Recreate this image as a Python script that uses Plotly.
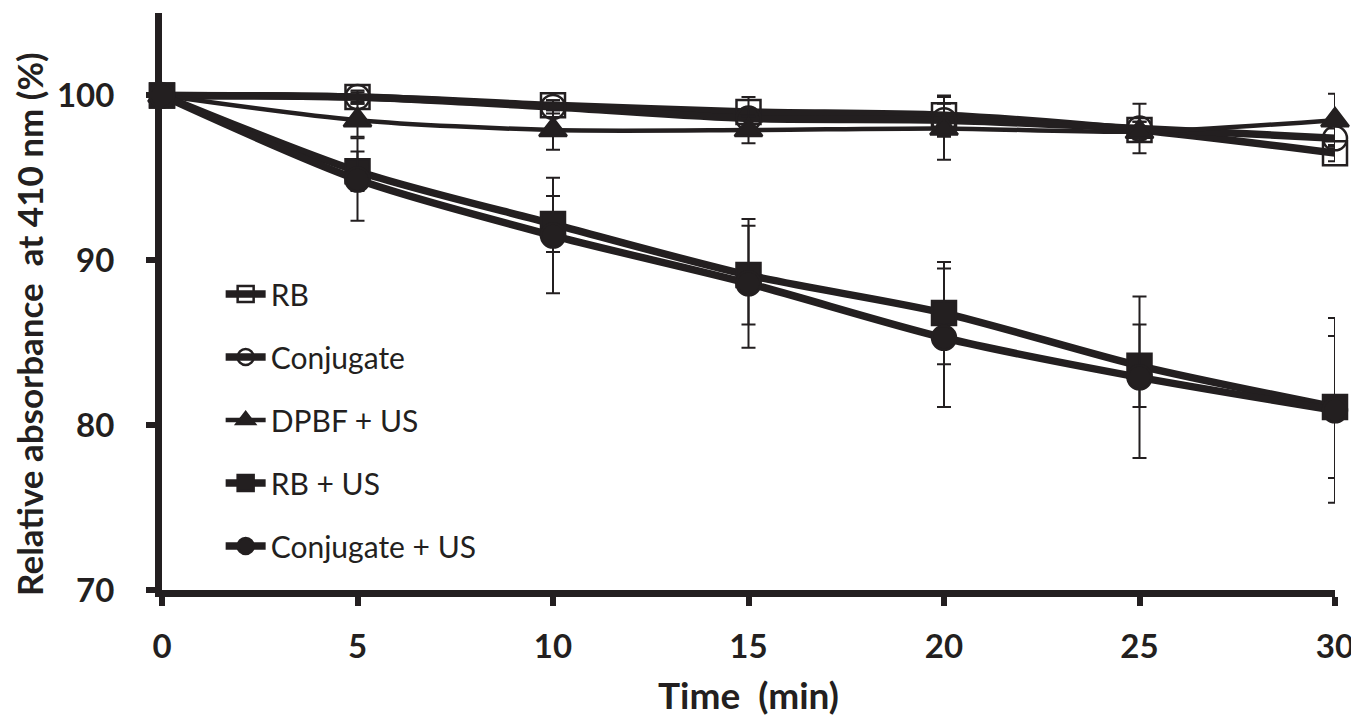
import plotly.graph_objects as go

C = "#231f20"

time_min = [0, 5, 10, 15, 20, 25, 30]

rb = [100, 99.9, 99.4, 99.0, 98.8, 97.9, 96.5]
rb_err = [0, 0.3, 0.3, 0.9, 1.2, 0.5, 0.5]

conj = [100, 99.9, 99.3, 98.6, 98.5, 98.0, 97.4]
conj_err = [0, 0.4, 0.4, 0.6, 1.0, 1.5, 0.6]

dpbf_us = [100, 98.5, 97.9, 97.9, 98.0, 97.8, 98.5]
dpbf_us_err = [0, 1.0, 1.2, 0.8, 1.9, 0.6, 1.6]

rb_us = [100, 95.4, 92.2, 89.1, 86.8, 83.6, 81.1]
rb_us_err = [0, 1.2, 1.7, 3.0, 3.1, 2.5, 4.3]

conj_us = [100, 94.9, 91.5, 88.6, 85.3, 82.9, 80.9]
conj_us_err = [0, 2.5, 3.5, 3.9, 4.2, 4.9, 5.6]

series = [
    ("RB", rb, rb_err, "square-open", 7.5),
    ("Conjugate", conj, conj_err, "circle-open", 7.5),
    ("DPBF + US", dpbf_us, dpbf_us_err, "triangle-up", 4.5),
    ("RB + US", rb_us, rb_us_err, "square", 7.5),
    ("Conjugate + US", conj_us, conj_us_err, "circle", 7.5),
]

fig = go.Figure()
for name, ys, errs, sym, lw in series:
    fig.add_trace(go.Scatter(
        x=time_min, y=ys, name=name, mode="lines+markers",
        legendgroup=name,
        line=dict(color=C, width=lw, shape="spline", smoothing=0.8),
        marker=dict(symbol=sym, size=24, color=C, line=dict(width=2.5, color=C)),
        error_y=dict(type="data", array=errs, color=C, thickness=2, width=7, visible=True),
        cliponaxis=False,
    ))

axis_common = dict(
    showline=True, linewidth=7, linecolor=C, mirror=False,
    ticks="outside", ticklen=9, tickwidth=6, tickcolor=C,
    showgrid=False, zeroline=False, automargin=False,
    tickfont=dict(family="Lato", size=33, color=C, weight="bold"),
)

# page body has an 8px default margin, so the figure is 8px smaller each way
fig.update_layout(
    width=1351, height=709,
    margin=dict(l=154, r=24, t=5, b=127),
    paper_bgcolor="white", plot_bgcolor="white",
    font=dict(family="Lato", color=C),
    xaxis=dict(range=[0, 30], tickvals=[0, 5, 10, 15, 20, 25, 30],
               title=dict(text="Time\u00a0 (min)", font=dict(family="Lato", size=37, color=C, weight="bold"), standoff=28),
               ticklabelstandoff=12, **axis_common),
    yaxis=dict(range=[70, 105], tickvals=[70, 80, 90, 100],
               ticklabelstandoff=25, **axis_common),
    legend=dict(x=0.05, y=0.558, xanchor="left", yanchor="top",
                font=dict(family="Lato", size=30, color=C),
                bgcolor="rgba(0,0,0,0)", tracegroupgap=21, itemwidth=40),
    showlegend=True,
    annotations=[dict(
        text="Relative absorbance\u00a0 at 410 nm (%)", textangle=-90,
        xref="paper", yref="paper", x=-0.113, y=0.462,
        xanchor="center", yanchor="middle", showarrow=False,
        font=dict(family="Lato", size=35, color=C, weight="bold"),
    )],
)

fig.write_html("out.html")
